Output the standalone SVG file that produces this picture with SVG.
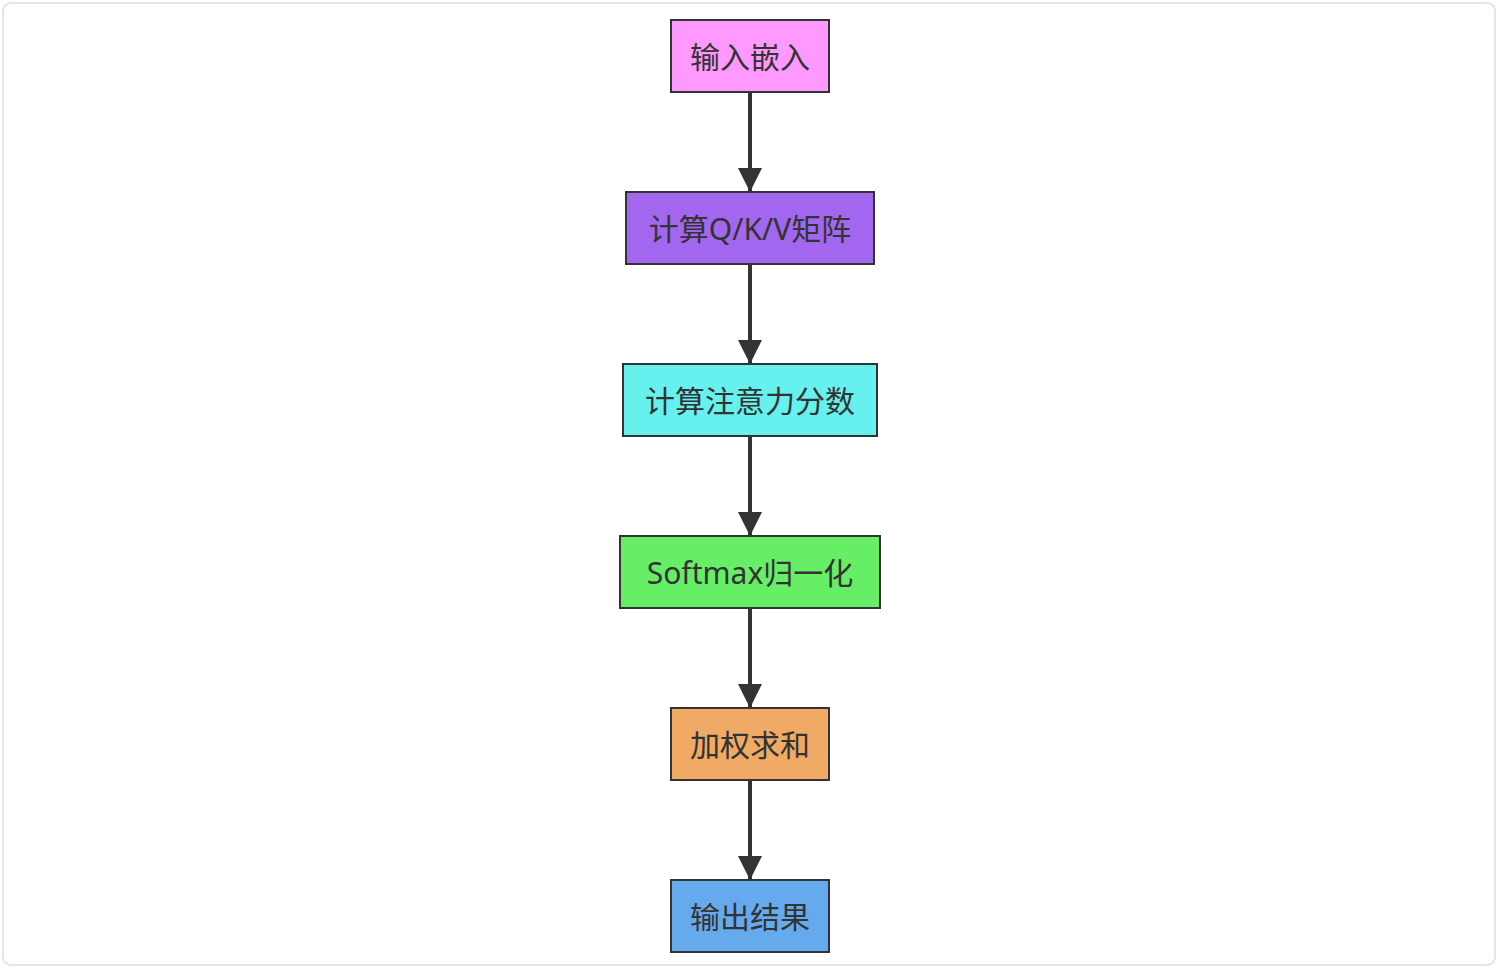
<svg xmlns="http://www.w3.org/2000/svg" width="1498" height="968" viewBox="0 0 1498 968">
<style>
.n rect{stroke:#333;stroke-width:2}
.n text{font-family:"Noto Sans","Noto Sans CJK SC",sans-serif;font-size:30px;fill:#333;text-anchor:middle;dominant-baseline:central}
.e line{stroke:#333;stroke-width:4}
</style>
<defs><marker id="a" markerUnits="userSpaceOnUse" markerWidth="24" markerHeight="24" refX="24" refY="12" orient="auto"><path d="M0,0L24,12L0,24z" fill="#333"/></marker></defs>
<rect x="3" y="3" width="1492" height="962" rx="8" fill="#fff" stroke="#e5e5e5" stroke-width="2"/>
<g class="e">
<line x1="750" y1="92" x2="750" y2="192" marker-end="url(#a)"/>
<line x1="750" y1="264" x2="750" y2="364" marker-end="url(#a)"/>
<line x1="750" y1="436" x2="750" y2="536" marker-end="url(#a)"/>
<line x1="750" y1="608" x2="750" y2="708" marker-end="url(#a)"/>
<line x1="750" y1="780" x2="750" y2="880" marker-end="url(#a)"/>
</g>
<g id="n1" class="n"><rect x="671" y="20" width="158" height="72" fill="#ff99ff"/><text x="750" y="56">输入嵌入</text></g>
<g id="n2" class="n"><rect x="626" y="192" width="248" height="72" fill="#a366ee"/><text x="750" y="228">计算Q/K/V矩阵</text></g>
<g id="n3" class="n"><rect x="623" y="364" width="254" height="72" fill="#66f0ee"/><text x="750" y="400">计算注意力分数</text></g>
<g id="n4" class="n"><rect x="620" y="536" width="260" height="72" fill="#66ee66"/><text x="750" y="572">Softmax归一化</text></g>
<g id="n5" class="n"><rect x="671" y="708" width="158" height="72" fill="#f0aa66"/><text x="750" y="744">加权求和</text></g>
<g id="n6" class="n"><rect x="671" y="880" width="158" height="72" fill="#66aaee"/><text x="750" y="916">输出结果</text></g>
</svg>
